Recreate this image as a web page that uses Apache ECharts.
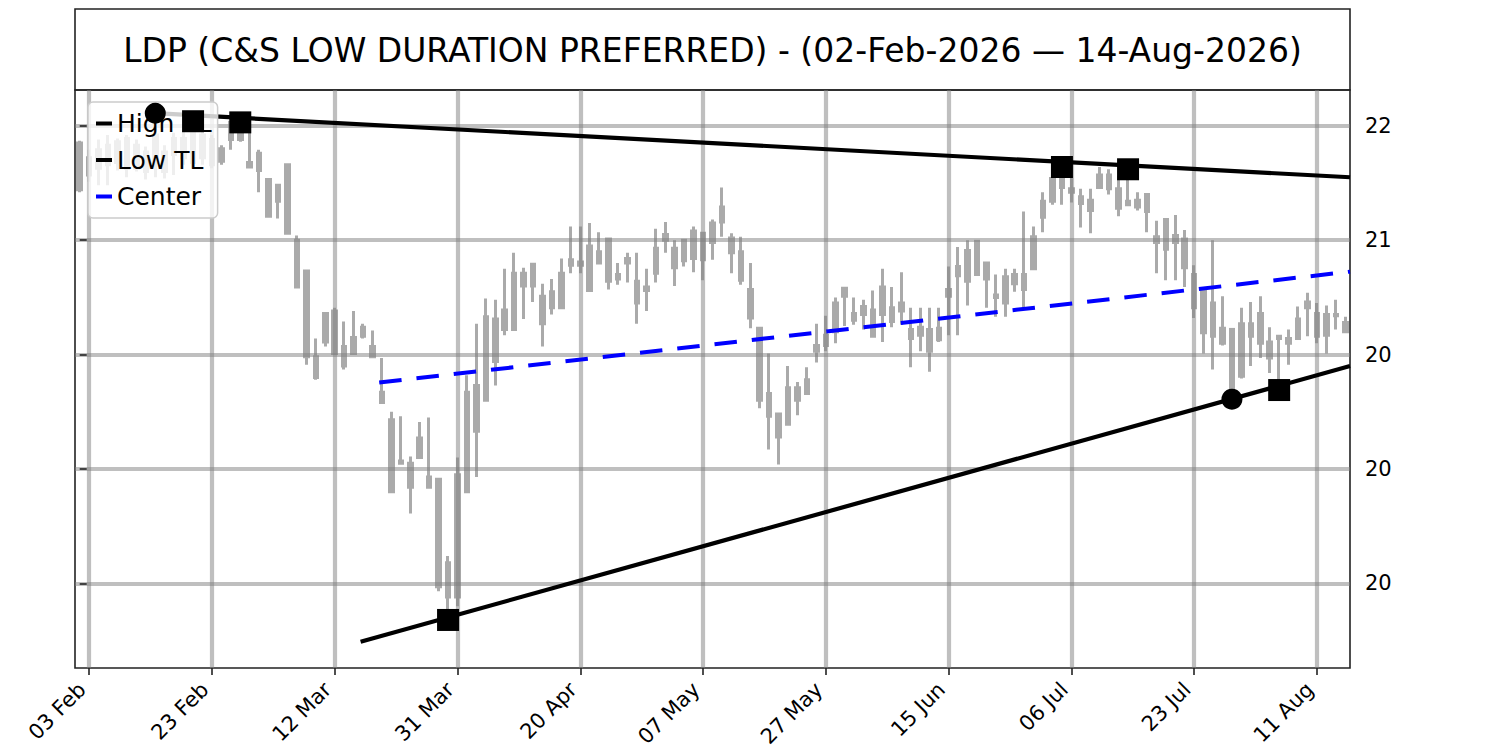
<!DOCTYPE html>
<html>
<head>
<meta charset="utf-8">
<title>LDP</title>
<script src="https://cdn.jsdelivr.net/npm/echarts@6/dist/echarts.min.js"></script>
<style>
  html, body { margin: 0; padding: 0; background: #fff; }
  #chart { width: 1500px; height: 750px; }
</style>
</head>
<body>
<div id="chart"></div>
<script>
// trading days, 02 Feb .. 14 Aug 2026
var dates = [
  '02 Feb', '03 Feb', '04 Feb', '05 Feb', '06 Feb', '09 Feb', '10 Feb', '11 Feb', '12 Feb', '13 Feb',
  '17 Feb', '18 Feb', '19 Feb', '20 Feb', '23 Feb', '24 Feb', '25 Feb', '26 Feb', '27 Feb',
  '02 Mar', '03 Mar', '04 Mar', '05 Mar', '06 Mar', '09 Mar', '10 Mar', '11 Mar', '12 Mar', '13 Mar',
  '16 Mar', '17 Mar', '18 Mar', '19 Mar', '20 Mar', '23 Mar', '24 Mar', '25 Mar', '26 Mar', '27 Mar',
  '30 Mar', '31 Mar',
  '01 Apr', '02 Apr', '06 Apr', '07 Apr', '08 Apr', '09 Apr', '10 Apr', '13 Apr', '14 Apr', '15 Apr',
  '16 Apr', '17 Apr', '20 Apr', '21 Apr', '22 Apr', '23 Apr', '24 Apr', '27 Apr', '28 Apr', '29 Apr',
  '30 Apr',
  '01 May', '04 May', '05 May', '06 May', '07 May', '08 May', '11 May', '12 May', '13 May', '14 May',
  '15 May', '18 May', '19 May', '20 May', '21 May', '22 May', '26 May', '27 May', '28 May', '29 May',
  '01 Jun', '02 Jun', '03 Jun', '04 Jun', '05 Jun', '08 Jun', '09 Jun', '10 Jun', '11 Jun', '12 Jun',
  '15 Jun', '16 Jun', '17 Jun', '18 Jun', '22 Jun', '23 Jun', '24 Jun', '25 Jun', '26 Jun', '29 Jun',
  '30 Jun',
  '01 Jul', '02 Jul', '06 Jul', '07 Jul', '08 Jul', '09 Jul', '10 Jul', '13 Jul', '14 Jul', '15 Jul',
  '16 Jul', '17 Jul', '20 Jul', '21 Jul', '22 Jul', '23 Jul', '24 Jul', '27 Jul', '28 Jul', '29 Jul',
  '30 Jul', '31 Jul',
  '03 Aug', '04 Aug', '05 Aug', '06 Aug', '07 Aug', '10 Aug', '11 Aug', '12 Aug', '13 Aug', '14 Aug'
];

// candles are all the same grey, so only the body top / bottom can be read
var highs = [
  21.87, 21.79, 21.88, 21.92, 21.89, 21.92, 21.88, 21.82, 22.00, 21.83,
  21.94, 21.96, 22.01, 21.98, 21.92, 21.83, 22.03, 22.05, 21.94, 21.79,
  21.53, 21.48, 21.66, 21.04, 20.74, 20.14, 20.36, 20.41, 20.29, 20.38,
  20.27, 20.21, 19.97, 19.50, 19.46, 19.11, 19.41, 19.45, 18.91, 18.24,
  19.10, 19.82, 20.27, 20.49, 20.48, 20.75, 20.89, 20.76, 20.79, 20.62,
  20.66, 20.84, 21.12, 21.12, 21.15, 21.07, 21.01, 20.80, 20.89, 20.89,
  20.75, 21.10, 21.16, 21.00, 21.00, 21.12, 21.06, 21.18, 21.46, 21.06,
  21.03, 20.80, 20.23, 20.01, 19.49, 19.90, 19.76, 19.89, 20.27, 20.34,
  20.50, 20.58, 20.50, 20.48, 20.56, 20.75, 20.59, 20.72, 20.41, 20.41,
  20.41, 20.41, 20.77, 20.94, 21.00, 20.99, 20.80, 20.70, 20.75, 20.75,
  21.25, 21.12, 21.42, 21.54, 21.56, 21.56, 21.45, 21.45, 21.64, 21.62,
  21.56, 21.54, 21.42, 21.40, 21.17, 21.18, 21.22, 21.09, 20.78, 20.56,
  21.00, 20.51, 20.22, 20.41, 20.46, 20.51, 20.24, 20.17, 20.22, 20.42,
  20.54, 20.45, 20.43, 20.48, 20.33
];
var bodyTop = [
  21.85, 21.72, 21.79, 21.83, 21.86, 21.89, 21.83, 21.77, 21.92, 21.77,
  21.89, 21.89, 21.95, 21.92, 21.88, 21.80, 22.03, 21.99, 21.68, 21.76,
  21.53, 21.48, 21.66, 21.00, 20.73, 19.98, 20.36, 20.38, 20.07, 20.15,
  20.24, 20.07, 19.67, 19.43, 19.07, 19.05, 19.27, 18.93, 18.91, 18.18,
  18.95, 19.67, 19.73, 20.33, 20.31, 20.39, 20.71, 20.71, 20.79, 20.51,
  20.55, 20.71, 20.83, 20.81, 20.95, 20.90, 21.01, 20.70, 20.84, 20.64,
  20.59, 20.93, 21.05, 20.93, 21.00, 21.08, 21.06, 21.15, 21.29, 21.02,
  20.90, 20.57, 20.23, 19.66, 19.48, 19.71, 19.71, 19.78, 20.08, 20.17,
  20.45, 20.58, 20.36, 20.42, 20.39, 20.59, 20.41, 20.45, 20.22, 20.24,
  20.22, 20.23, 20.57, 20.77, 20.91, 20.99, 20.80, 20.52, 20.68, 20.70,
  20.70, 21.03, 21.34, 21.54, 21.56, 21.45, 21.38, 21.35, 21.57, 21.57,
  21.45, 21.34, 21.35, 21.40, 21.03, 21.18, 21.04, 21.01, 20.70, 20.56,
  20.45, 20.23, 20.22, 20.27, 20.27, 20.36, 20.11, 20.16, 20.14, 20.31,
  20.46, 20.36, 20.35, 20.35, 20.28
];
var bodyBot = [
  21.44, 21.57, 21.63, 21.66, 21.68, 21.63, 21.63, 21.60, 21.68, 21.60,
  21.75, 21.72, 21.68, 21.72, 21.66, 21.69, 21.88, 21.88, 21.64, 21.61,
  21.21, 21.34, 21.06, 20.59, 19.98, 19.80, 20.11, 20.01, 19.90, 20.01,
  20.16, 19.98, 19.58, 18.80, 19.05, 18.84, 19.10, 18.84, 17.97, 17.88,
  17.88, 18.80, 19.33, 19.60, 19.94, 20.22, 20.22, 20.60, 20.60, 20.27,
  20.41, 20.41, 20.78, 20.78, 20.56, 20.80, 20.64, 20.66, 20.80, 20.45,
  20.56, 20.71, 21.00, 20.76, 20.82, 20.84, 20.83, 20.98, 21.16, 20.89,
  20.65, 20.32, 19.60, 19.46, 19.28, 19.39, 19.60, 19.66, 20.03, 20.08,
  20.20, 20.51, 20.30, 20.35, 20.16, 20.35, 20.29, 20.38, 20.14, 20.17,
  20.03, 20.13, 20.51, 20.69, 20.64, 20.70, 20.66, 20.50, 20.45, 20.62,
  20.57, 20.75, 21.20, 21.34, 21.46, 21.42, 21.32, 21.26, 21.46, 21.45,
  21.28, 21.31, 21.29, 21.25, 20.98, 20.92, 20.98, 20.76, 20.41, 20.19,
  20.16, 20.10, 19.69, 19.81, 20.16, 20.10, 19.97, 20.14, 20.10, 20.14,
  20.41, 20.16, 20.17, 20.34, 20.20
];
var lows = [
  21.42, 21.51, 21.48, 21.48, 21.61, 21.55, 21.60, 21.53, 21.55, 21.54,
  21.57, 21.66, 21.63, 21.66, 21.63, 21.66, 21.79, 21.86, 21.64, 21.42,
  21.21, 21.19, 21.06, 20.58, 19.91, 19.78, 20.07, 20.01, 19.87, 20.00,
  20.14, 19.97, 19.57, 18.80, 19.04, 18.61, 19.10, 18.84, 17.93, 17.77,
  17.80, 18.80, 18.93, 19.60, 19.73, 20.17, 20.22, 20.31, 20.46, 20.07,
  20.35, 20.41, 20.71, 20.71, 20.56, 20.80, 20.57, 20.61, 20.63, 20.27,
  20.38, 20.63, 20.89, 20.60, 20.77, 20.72, 20.65, 20.83, 21.03, 20.71,
  20.61, 20.23, 19.53, 19.17, 19.04, 19.39, 19.47, 19.66, 19.93, 20.03,
  20.10, 20.25, 20.26, 20.22, 20.16, 20.11, 20.24, 20.26, 19.89, 20.03,
  19.85, 20.11, 20.17, 20.17, 20.43, 20.70, 20.41, 20.33, 20.33, 20.55,
  20.41, 20.75, 21.07, 21.31, 21.31, 21.33, 21.11, 21.06, 21.46, 21.40,
  21.21, 21.31, 21.26, 21.07, 20.71, 20.65, 20.65, 20.59, 20.32, 20.01,
  19.87, 20.08, 19.69, 19.79, 19.90, 19.97, 19.84, 19.78, 19.91, 20.14,
  20.16, 20.10, 20.01, 20.22, 20.20
];

// trend lines: [start, end] as day index and price
var highTLx = [7.95, 134.5];
var highTLy = [22.11, 21.55];
var lowTLx = [29.74, 134.5];
var lowTLy = [17.49, 19.90];
var centerX = [31.71, 134.5];
var centerY = [19.755, 20.725];

// pivot markers
var circleIdx = [8, 122];
var circleVal = [22.11, 19.61];
var squareIdx = [12, 17, 39, 104, 111, 127];
var squareVal = [22.04, 22.03, 17.68, 21.64, 21.62, 19.69];

// axis ticks as printed in the picture
var xTickIdx = [1, 14, 27, 40, 53, 66, 79, 92, 105, 118, 131];
var yTickValues = [18, 19, 20, 21, 22];
var yTickLabels = ['20', '20', '20', '21', '22'];

var titleText = 'LDP (C&S LOW DURATION PREFERRED) - (02-Feb-2026 \u2014 14-Aug-2026)';

var FONT = 'DejaVu Sans';
var GREY = '#aaaaaa';
var GRID_LINE = { color: 'rgba(128,128,128,0.5)', width: 4.2 };
var TICK_LINE = { color: '#222', width: 1.6 };
var TICK_TEXT = { fontSize: 21, fontFamily: FONT, color: '#000' };

function pairs(xs, ys) {
    var out = [];
    for (var i = 0; i < xs.length; i++) {
        out.push([xs[i], ys[i]]);
    }
    return out;
}

var candleData = [];
for (var i = 0; i < dates.length; i++) {
    candleData.push([bodyBot[i], bodyTop[i], lows[i], highs[i]]);
}

function trendLine(name, xs, ys, color, width, type) {
    return {
        name: name,
        type: 'line',
        xAxisIndex: 1,
        yAxisIndex: 0,
        data: pairs(xs, ys),
        symbol: 'none',
        color: color,
        itemStyle: { color: color },
        lineStyle: { color: color, width: width, type: type || 'solid' },
        z: 3,
        silent: true
    };
}

var chart = echarts.init(document.getElementById('chart'), null, { renderer: 'svg' });

var option = {
    animation: false,
    backgroundColor: '#fff',
    textStyle: { fontFamily: FONT },
    grid: {
        left: 75, top: 90, width: 1275, height: 578,
        show: true, borderColor: '#222', borderWidth: 1.6,
        backgroundColor: 'transparent'
    },
    legend: {
        data: ['High TL', 'Low TL', 'Center'],
        orient: 'vertical',
        left: 88, top: 102,
        icon: 'rect',
        itemWidth: 16, itemHeight: 4,
        itemGap: 11.5,
        padding: [9, 6, 9, 8],
        backgroundColor: 'rgba(255,255,255,0.8)',
        borderColor: '#cccccc', borderWidth: 1.5, borderRadius: 5,
        textStyle: { fontSize: 25, color: '#000', fontFamily: FONT },
        selectedMode: false,
        z: 4
    },
    xAxis: [
        {
            type: 'category',
            data: dates,
            boundaryGap: true,
            show: false
        },
        {
            type: 'value',
            min: -0.5, max: 134.5,
            position: 'bottom',
            z: 2,
            axisLine: { show: false },
            axisTick: { show: true, customValues: xTickIdx, length: 7, lineStyle: TICK_LINE },
            axisLabel: {
                customValues: xTickIdx,
                formatter: function (v) { return '{t|' + dates[v] + '}'; },
                rich: { t: TICK_TEXT },
                fontSize: 21,
                rotate: 45,
                margin: 11,
                padding: [0, 10, 0, 0]
            },
            splitLine: { show: true, lineStyle: GRID_LINE }
        }
    ],
    yAxis: {
        type: 'value',
        position: 'right',
        min: 17.26, max: 22.313,
        z: 2,
        axisLine: { show: false },
        axisTick: { show: true, customValues: yTickValues, length: 7, lineStyle: TICK_LINE },
        axisLabel: {
            customValues: yTickValues,
            formatter: function (v) { return '{t|' + yTickLabels[yTickValues.indexOf(v)] + '}'; },
            rich: { t: TICK_TEXT },
            fontSize: 21,
            margin: 15
        },
        splitLine: { show: true, lineStyle: GRID_LINE }
    },
    graphic: [
        {
            type: 'rect',
            shape: { x: 75, y: 9, width: 1275, height: 81 },
            style: { fill: 'none', stroke: '#222', lineWidth: 1.6 },
            silent: true
        },
        {
            type: 'text',
            x: 712.5, y: 50,
            style: {
                text: titleText,
                fontSize: 33,
                fontFamily: FONT,
                fill: '#000',
                align: 'center',
                verticalAlign: 'middle'
            },
            silent: true
        }
    ],
    series: [
        {
            name: 'LDP',
            type: 'candlestick',
            xAxisIndex: 0,
            yAxisIndex: 0,
            data: candleData,
            barWidth: 4,
            itemStyle: {
                color: GREY, color0: GREY,
                borderColor: GREY, borderColor0: GREY, borderColorDoji: GREY,
                borderWidth: 3
            },
            z: 1,
            silent: true
        },
        trendLine('High TL', highTLx, highTLy, '#000000', 4.2),
        trendLine('Low TL', lowTLx, lowTLy, '#000000', 4.2),
        trendLine('Center', centerX, centerY, '#0000ff', 4, [22.5, 15]),
        {
            name: 'pivot circles',
            type: 'scatter',
            xAxisIndex: 1,
            yAxisIndex: 0,
            data: pairs(circleIdx, circleVal),
            symbol: 'circle',
            symbolSize: 21,
            itemStyle: { color: '#000', opacity: 1 },
            z: 5,
            silent: true
        },
        {
            name: 'pivot squares',
            type: 'scatter',
            xAxisIndex: 1,
            yAxisIndex: 0,
            data: pairs(squareIdx, squareVal),
            symbol: 'rect',
            symbolSize: 22,
            itemStyle: { color: '#000', opacity: 1 },
            z: 5,
            silent: true
        }
    ]
};

chart.setOption(option);

window.addEventListener('resize', function () {
    chart.resize();
});
</script>
</body>
</html>
